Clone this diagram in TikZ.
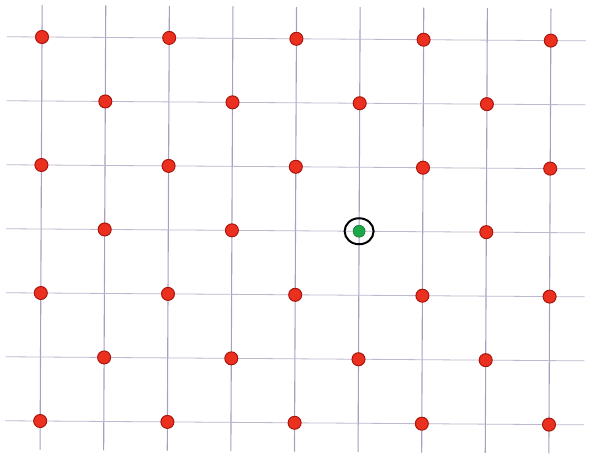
\documentclass[tikz,border=0pt]{standalone}
\definecolor{gridline}{RGB}{168,160,190}
\definecolor{dotfill}{RGB}{236,48,32}
\definecolor{dotedge}{RGB}{168,22,14}
\definecolor{centrefill}{RGB}{28,168,72}
\tikzset{
  latline/.style={draw=gridline,line width=1.1pt},
  reddot/.style={circle,inner sep=0pt,minimum size=13pt,fill=dotfill,draw=dotedge,line width=1pt},
  greendot/.style={circle,inner sep=0pt,minimum size=12pt,fill=centrefill,draw=centrefill!70!black,line width=.6pt},
  ring/.style={draw=black,line width=2pt}
}
% lattice site (column i, row j), slightly tilted as in the scan
\newcommand{\sitexy}[2]{%
  \pgfmathsetmacro{\sx}{42+63.6*(#1)-0.3*(#2)}%
  \pgfmathsetmacro{\sy}{37+64*(#2)+0.45*(#1)}}
\begin{document}
\begin{tikzpicture}[x=1pt,y=-1pt]
\path[use as bounding box] (0,0) rectangle (593,462);
\path[fill=white,draw=none] (0,0) rectangle (593,462);
% grid lines
\foreach \i in {0,...,8}{
  \sitexy{\i}{-0.5}
  \coordinate (top\i) at (\sx,\sy);
  \sitexy{\i}{6.45}
  \coordinate (bot\i) at (\sx,\sy);
  \draw[latline] (top\i) -- (bot\i);
}
\foreach \j in {0,...,6}{
  \sitexy{-0.55}{\j}
  \coordinate (lft\j) at (\sx,\sy);
  \sitexy{8.55}{\j}
  \coordinate (rgt\j) at (\sx,\sy);
  \draw[latline,draw=gridline!75,line width=.8pt] (lft\j) -- (rgt\j);
}
% red lattice points
\foreach \j in {0,2,4,6}
  \foreach \i in {0,2,...,8}{
    \sitexy{\i}{\j}
    \node[reddot] (d\i\j) at (\sx,\sy) {};
  }
\foreach \j/\cols in {1/{1,3,5,7},3/{1,3,7},5/{1,3,5,7}}
  \foreach \i in \cols{
    \sitexy{\i}{\j}
    \node[reddot] (d\i\j) at (\sx,\sy) {};
  }
% marked point
\sitexy{5}{3}
\node[greendot] (centre) at (\sx,\sy) {};
\draw[ring] (centre) ellipse (14.5pt and 13pt);
\end{tikzpicture}
\end{document}
